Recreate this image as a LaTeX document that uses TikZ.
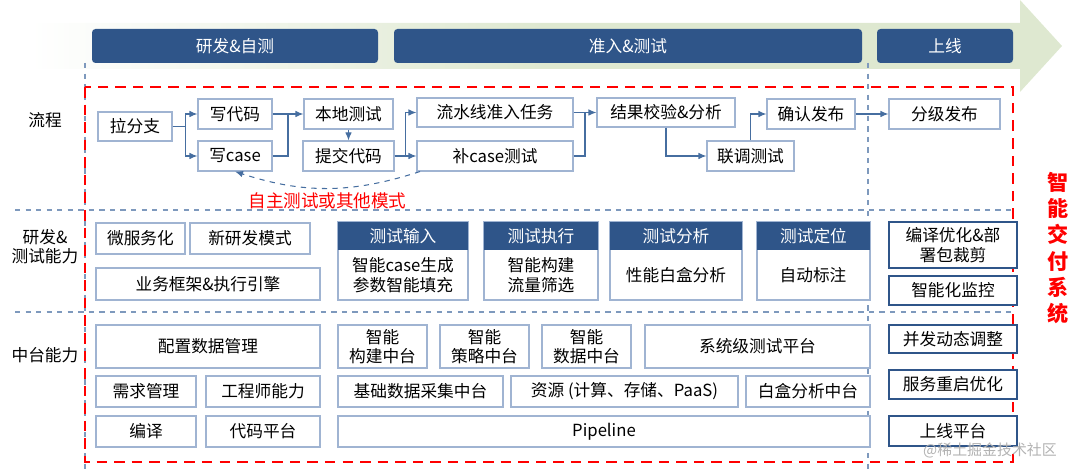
\documentclass[tikz,border=0pt]{standalone}
\usepackage{fontspec}
\setmainfont{Noto Sans CJK SC}
\usetikzlibrary{arrows.meta,calc,positioning}
\definecolor{navy}{RGB}{47,85,137}
\definecolor{lineblue}{RGB}{70,110,160}
\definecolor{boxline}{RGB}{160,180,210}
\definecolor{band}{RGB}{222,232,208}
\newcommand{\bx}[7][box]{%
  \node[#1, minimum width={(#5-#3)*0.02cm}, minimum height={(#6-#4)*0.02cm}]
    (#2) at ({(#3+#5)/2},{(#4+#6)/2}) {#7};}
\begin{document}
\begin{tikzpicture}
    [
    x=0.02cm, y=-0.02cm,
    font=\fontsize{9.5}{11}\selectfont,
    box/.style={draw=boxline, line width=0.6pt, fill=white, inner sep=1pt, align=center},
    rbox/.style={box, draw=navy, line width=0.8pt},
    head/.style={fill=navy, text=white, inner sep=1pt, rounded corners=2pt},
    txt/.style={inner sep=0pt, align=center},
    arr/.style={draw=lineblue, line width=0.6pt, -{Latex[length=1.6mm,width=1.3mm]}},
    sep/.style={draw=lineblue!70, dashed, line width=0.6pt},
    ]
    \useasboundingbox (0,0) rectangle (1080,472);
    % banner
    \shade[left color=white, right color=band, middle color=band]
      (30,23) -- (1020,23) -- (1020,0) -- (1062,46) -- (1020,92) -- (1020,69) -- (30,69) -- cycle;
    \bx[head]{p1}{92}{29}{378}{63}{研发\&自测}
    \bx[head]{p2}{394}{29}{862}{63}{准入\&测试}
    \bx[head]{p3}{877}{29}{1013}{63}{上线}

    % separators
    \draw[sep] (85,63) -- (85,472);
    \draw[sep] (868,63) -- (868,472);
    \draw[sep] (15,210) -- (1013,210);
    \draw[sep] (15,312) -- (1013,312);
    \draw[red, dashed, line width=1.1pt, dash pattern=on 6pt off 4pt] (85,87) rectangle (1013,462);
    \node[text=red, font=\fontsize{12}{15}\selectfont\bfseries, align=center] (zn) at (1058,248)
      {智\\能\\交\\付\\系\\统};

    % row labels
    \node (r1) at (45,120) {流程};
    \node[align=center] (r2) at (45,247) {研发\&\\测试能力};
    \node (r3) at (45,355) {中台能力};

    % flow
    \bx{lfz}{98}{112}{172}{141}{拉分支}
    \bx{xdm}{198}{99}{272}{129}{写代码}
    \bx{xcase}{198}{141}{272}{171}{写case}
    \bx{bdcs}{304}{99}{393}{129}{本地测试}
    \bx{tjdm}{303}{141}{394}{171}{提交代码}
    \bx{lsx}{417}{98}{573}{127}{流水线准入任务}
    \bx{bcase}{417}{141}{573}{171}{补case测试}
    \bx{jgjy}{597}{98}{735}{127}{结果校验\&分析}
    \bx{ltcs}{707}{141}{794}{171}{联调测试}
    \bx{qrfb}{767}{99}{855}{129}{确认发布}
    \bx{fjfb}{889}{99}{1000}{129}{分级发布}
    \draw[arr] (lfz.east) -- ++(13,0) |- (xdm.west);
    \draw[arr] (lfz.east) -- ++(13,0) |- (xcase.west);
    \draw[arr] (xdm.east) -- (bdcs.west);
    \draw[lineblue, line width=0.6pt] (xcase.east) -| ($(xdm.east)!.5!(bdcs.west)$);
    \draw[arr] (bdcs) -- (tjdm);
    \draw[arr] (tjdm.east) -- ++(11,0) |- (lsx.west);
    \draw[arr] (tjdm.east) -- (bcase.west);
    \draw[arr] (lsx.east) -- (jgjy.west);
    \draw[lineblue, line width=0.6pt] (bcase.east) -| ($(lsx.east)!.5!(jgjy.west)$);
    \draw[arr] (jgjy.south) |- (ltcs.west);
    \draw[arr] (ltcs.north) |- (qrfb.west);
    \draw[arr] (qrfb) -- (fjfb);
    \draw[arr, dashed] ([xshift=-1.5cm]bcase.south) to[bend left=18]
      node[below=-1pt, text=red, font=\fontsize{10}{12}\selectfont] (zz) {自主测试或其他模式} (xcase.south);

    % capability row
    \bx{wfw}{96}{223}{185}{254}{微服务化}
    \bx{xyf}{190}{223}{310}{254}{新研发模式}
    \bx{ywkj}{96}{268}{320}{300}{业务框架\&执行引擎}
    \bx{srb}{338}{222}{468}{300}{}
    \bx{zxb}{484}{222}{598}{300}{}
    \bx{fxb}{610}{222}{742}{300}{}
    \bx{dwb}{757}{222}{870}{300}{}
    \bx[head, rounded corners=0pt]{srh}{338}{222}{468}{250}{测试输入}
    \bx[head, rounded corners=0pt]{zxh}{484}{222}{598}{250}{测试执行}
    \bx[head, rounded corners=0pt]{fxh}{610}{222}{742}{250}{测试分析}
    \bx[head, rounded corners=0pt]{dwh}{757}{222}{870}{250}{测试定位}
    \node[txt] (srt) at (403,275) {智能case生成\\参数智能填充};
    \node[txt] (zxt) at (541,275) {智能构建\\流量筛选};
    \node[txt] (fxt) at (676,275) {性能白盒分析};
    \node[txt] (dwt) at (813,275) {自动标注};
    \bx[rbox]{byyh}{889}{222}{1017}{268}{编译优化\&部\\署包裁剪}
    \bx[rbox]{znjk}{889}{276}{1017}{305}{智能化监控}

    % platform row
    \bx{pzsj}{96}{325}{320}{368}{配置数据管理}
    \bx{xqgl}{96}{376}{196}{407}{需求管理}
    \bx{gcs}{206}{376}{320}{407}{工程师能力}
    \bx{by}{96}{416}{196}{447}{编译}
    \bx{dmpt}{206}{416}{320}{447}{代码平台}
    \bx{zngj}{338}{325}{427}{368}{智能\\构建中台}
    \bx{znce}{440}{325}{529}{368}{智能\\策略中台}
    \bx{znsj}{542}{325}{631}{368}{智能\\数据中台}
    \bx{xtcs}{645}{325}{870}{368}{系统级测试平台}
    \bx{jcsj}{338}{376}{503}{407}{基础数据采集中台}
    \bx{zy}{511}{376}{738}{407}{资源 (计算、存储、PaaS)}
    \bx{bhfx}{746}{376}{870}{407}{白盒分析中台}
    \bx{ppl}{338}{416}{870}{447}{Pipeline}
    \bx[rbox]{bftz}{889}{325}{1017}{353}{并发动态调整}
    \bx[rbox]{fwcq}{889}{370}{1017}{399}{服务重启优化}
    \bx[rbox]{sxpt}{889}{416}{1017}{446}{上线平台}
    \node[text=gray!60, font=\fontsize{8.5}{10}\selectfont] (wm) at (990,450) {@稀土掘金技术社区};
\end{tikzpicture}
\end{document}
